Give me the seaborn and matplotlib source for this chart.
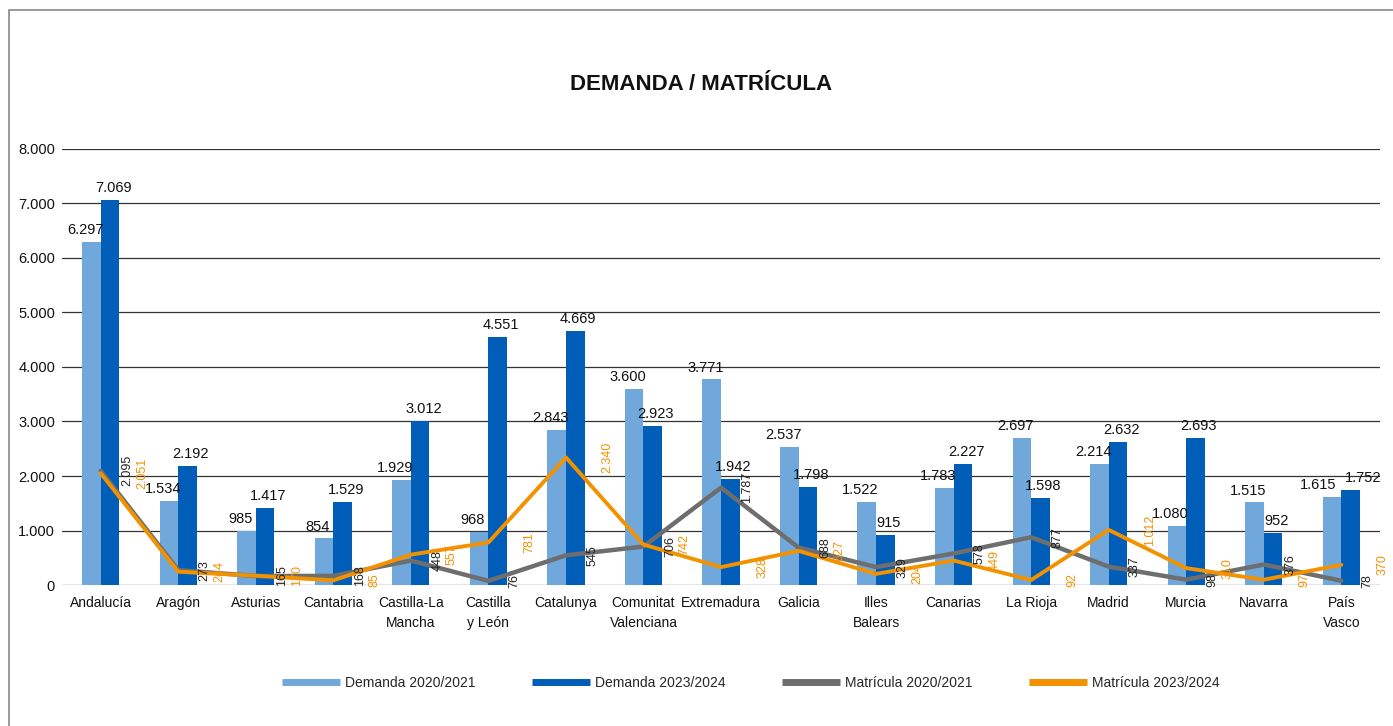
import numpy as np
import pandas as pd
import matplotlib
matplotlib.use("Agg")
import matplotlib.pyplot as plt
import seaborn as sns
from matplotlib.lines import Line2D
from matplotlib.patches import Rectangle

# ─── Data ─────────────────────────────────────────────────────────────────────
regions = ["Andalucía", "Aragón", "Asturias", "Cantabria", "Castilla-La\nMancha",
           "Castilla\ny León", "Catalunya", "Comunitat\nValenciana", "Extremadura",
           "Galicia", "Illes\nBalears", "Canarias", "La Rioja", "Madrid", "Murcia",
           "Navarra", "País\nVasco"]
demanda_2021 = [6297, 1534, 985, 854, 1929, 968, 2843, 3600, 3771, 2537, 1522,
                1783, 2697, 2214, 1080, 1515, 1615]
demanda_2024 = [7069, 2192, 1417, 1529, 3012, 4551, 4669, 2923, 1942, 1798, 915,
                2227, 1598, 2632, 2693, 952, 1752]
matricula_2021 = [2095, 273, 165, 168, 448, 76, 545, 706, 1787, 688, 329, 578,
                  877, 337, 98, 376, 78]
matricula_2024 = [2051, 244, 170, 85, 557, 781, 2340, 742, 328, 627, 204, 449,
                  92, 1012, 310, 97, 370]
series_names = ["Demanda 2020/2021", "Demanda 2023/2024",
                "Matrícula 2020/2021", "Matrícula 2023/2024"]
yticks = [0, 1000, 2000, 3000, 4000, 5000, 6000, 7000, 8000]

C_LIGHT = "#70A8DC"
C_DARK = "#005EB8"
C_GRAY = "#6E6E6E"
C_ORANGE = "#F39200"


def fmt(v):
    return f"{v:,}".replace(",", ".")


sns.set_theme(style="white")
plt.rcParams["font.family"] = ["Liberation Sans Narrow", "Liberation Sans", "DejaVu Sans"]

df = pd.DataFrame({
    "region": regions * 2,
    "valor": demanda_2021 + demanda_2024,
    "serie": [series_names[0]] * len(regions) + [series_names[1]] * len(regions),
})

fig = plt.figure(figsize=(13.93, 7.26), dpi=100)
ax = fig.add_axes([0.0445, 0.1942, 0.9462, 0.6006])

sns.barplot(data=df, x="region", y="valor", hue="serie", order=regions,
            palette=[C_LIGHT, C_DARK], width=0.48, gap=0, dodge=True,
            ax=ax, legend=False, saturation=1, edgecolor="none")

x = np.arange(len(regions))
sns.lineplot(x=x, y=matricula_2021, color=C_GRAY, lw=3.2, ax=ax, sort=False)
sns.lineplot(x=x, y=matricula_2024, color=C_ORANGE, lw=2.8, ax=ax, sort=False)

# bar value labels; spread them apart when they would collide
for xi, (a, b) in enumerate(zip(demanda_2021, demanda_2024)):
    close = abs(a - b) < 350
    dl, dr = (-0.3, 0.28) if close else (-0.2, 0.16)
    ax.text(xi + dl, a + 90, fmt(a), ha="center", va="bottom", fontsize=10.5, color="#111111")
    ax.text(xi + dr, b + 90, fmt(b), ha="center", va="bottom", fontsize=10.5, color="#111111")

# line value labels (rotated)
for xi, (g, o) in enumerate(zip(matricula_2021, matricula_2024)):
    ax.text(xi + 0.34, g, fmt(g), rotation=90, ha="center", va="center",
            fontsize=9, color="#222222")
    ax.text(xi + 0.53, o, fmt(o), rotation=90, ha="center", va="center",
            fontsize=9, color=C_ORANGE)

ax.set_xlim(-0.5, len(regions) - 0.5)
ax.set_ylim(0, 8000)
ax.set_yticks(yticks)
ax.set_yticklabels([fmt(t) for t in yticks], fontsize=10.5)
ax.set_xticks(x)
ax.set_xticklabels(regions, fontsize=10, linespacing=1.5)
ax.tick_params(axis="x", length=0, pad=8, colors="#111111")
ax.tick_params(axis="y", length=0, pad=5, colors="#111111")
ax.set_xlabel("")
ax.set_ylabel("")
ax.grid(axis="y", color="#333333", lw=0.9)
ax.set_axisbelow(True)
for s in ax.spines.values():
    s.set_visible(False)

fig.text(0.503, 0.883, "DEMANDA / MATRÍCULA", ha="center", va="center",
         fontsize=16, fontweight="bold", color="#111111")

handles = [Line2D([], [], color=c, lw=5, solid_capstyle="butt")
           for c in [C_LIGHT, C_DARK, C_GRAY, C_ORANGE]]
fig.legend(handles, series_names, loc="center", bbox_to_anchor=(0.539, 0.059),
           ncol=4, frameon=False, fontsize=10, handlelength=4.2,
           columnspacing=4.0, handletextpad=0.4)

fig.patches.append(Rectangle((9 / 1393, -0.1), 1.2, 1 - 10 / 726 + 0.1,
                             transform=fig.transFigure, fill=False,
                             edgecolor="#888888", lw=1.2))

fig.savefig("out.png", dpi=100)
